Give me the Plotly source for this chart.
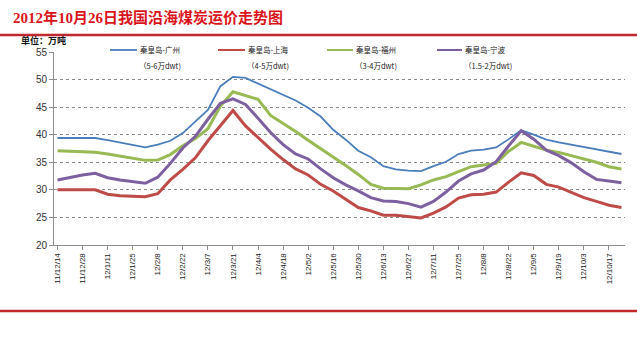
import plotly.graph_objects as go

# ---------------- data ----------------
tick_labels = ["11/12/14", "11/12/28", "12/1/11", "12/1/25", "12/2/8", "12/2/22", "12/3/7",
               "12/3/21", "12/4/4", "12/4/18", "12/5/2", "12/5/16", "12/5/30", "12/6/13",
               "12/6/27", "12/7/11", "12/7/25", "12/8/8", "12/8/22", "12/9/5", "12/9/19",
               "12/10/3", "12/10/17"]

series_names = ["秦皇岛-广州", "秦皇岛-上海", "秦皇岛-福州", "秦皇岛-宁波"]
series_sub = ["（5-6万dwt)", "（4-5万dwt)", "（3-4万dwt)", "（1.5-2万dwt)"]

guangzhou = [39.4, 39.4, 39.4, 39.4, 39.0, 38.6, 38.1, 37.7, 38.2, 38.9,
             40.3, 42.4, 44.5, 48.8, 50.5, 50.3, 49.3, 48.3, 47.2, 46.2,
             44.9, 43.3, 40.9, 39.1, 37.1, 35.9, 34.3, 33.7, 33.5, 33.4,
             34.3, 35.1, 36.5, 37.1, 37.3, 37.7, 39.2, 40.8, 40.0, 39.1,
             38.6, 38.2, 37.8, 37.4, 37.0, 36.5]
shanghai = [30.0, 30.0, 30.0, 30.0, 29.2, 28.95, 28.85, 28.75, 29.3, 31.8,
            33.7, 35.8, 38.9, 41.6, 44.4, 41.6, 39.5, 37.4, 35.5, 33.8,
            32.7, 31.0, 29.8, 28.3, 26.8, 26.2, 25.4, 25.4, 25.2, 24.9,
            25.8, 26.9, 28.5, 29.1, 29.2, 29.6, 31.4, 33.1, 32.6, 31.0,
            30.5, 29.5, 28.6, 27.9, 27.2, 26.8]
fuzhou = [37.1, 37.0, 36.9, 36.8, 36.5, 36.1, 35.7, 35.35, 35.4, 36.4,
          38.0, 39.3, 41.1, 45.2, 47.8, 47.1, 46.4, 43.5, 42.1, 40.6,
          39.0, 37.5, 35.9, 34.4, 32.8, 31.0, 30.3, 30.2, 30.2, 30.9,
          31.8, 32.4, 33.3, 34.2, 34.5, 34.8, 37.0, 38.6, 37.9, 37.2,
          36.8, 36.2, 35.6, 35.0, 34.2, 33.8]
ningbo = [31.8, 32.3, 32.7, 33.0, 32.2, 31.8, 31.5, 31.2, 32.3, 34.8,
          37.6, 39.7, 42.8, 45.7, 46.5, 45.5, 43.0, 40.4, 38.2, 36.5,
          35.6, 33.8, 32.2, 30.9, 29.8, 28.6, 28.0, 27.9, 27.5, 26.85,
          27.9, 29.6, 31.6, 32.9, 33.6, 35.1, 38.0, 40.7, 39.2, 37.2,
          36.2, 34.9, 33.3, 31.9, 31.6, 31.3]

colors = ["#4a7ebb", "#be4b48", "#98b954", "#7d60a0"]
widths = [1.8, 3, 3, 3]

# ---------------- geometry helpers (pixel -> paper) ----------------
W, H = 637, 340
L, R, T, B = 54, 625, 52, 245


def px(x):
    return (x - L) / (R - L)


def py(y):
    return (B - y) / (B - T)


fig = go.Figure()
all_series = [guangzhou, shanghai, fuzhou, ningbo]
idx = list(range(len(guangzhou)))
for name, vals, c, w in zip(series_names, all_series, colors, widths):
    fig.add_trace(go.Scatter(x=idx, y=vals, mode="lines", name=name,
                             line=dict(color=c, width=w), showlegend=False))

fig.update_layout(
    width=W, height=H,
    margin=dict(l=L, r=W - R, t=T, b=H - B),
    paper_bgcolor="white", plot_bgcolor="white",
    xaxis=dict(range=[-0.28, len(idx) - 1 + 0.28],
               tickmode="array", tickvals=list(range(0, 2 * len(tick_labels), 2)),
               ticktext=tick_labels, tickangle=-90,
               tickfont=dict(family="Liberation Sans, Arial", size=8, color="#222"),
               showgrid=False, zeroline=False, showline=True, linecolor="#8c8c8c",
               linewidth=1, ticks="outside", ticklen=4, tickcolor="#8c8c8c"),
    yaxis=dict(range=[20, 55], dtick=5, tick0=20,
               tickfont=dict(family="Liberation Sans, Arial", size=10, color="#333"),
               showgrid=True, gridcolor="#8a8a8a", griddash="dot", gridwidth=1,
               zeroline=False, showline=True, linecolor="#8c8c8c", linewidth=1,
               ticks="outside", ticklen=4, tickcolor="#8c8c8c"),
)

shapes = []
annotations = []

# title + red rules
annotations.append(dict(text="<b>2012年10月26日我国沿海煤炭运价走势图</b>",
                        xref="paper", yref="paper", x=px(11), y=py(17),
                        xanchor="left", yanchor="middle", showarrow=False,
                        font=dict(family="Liberation Serif, Noto Sans CJK SC", size=15,
                                  color="#d9141b")))
for yy in (35, 311):
    shapes.append(dict(type="line", xref="paper", yref="paper",
                       x0=px(0), x1=px(W), y0=py(yy), y1=py(yy),
                       line=dict(color="#c1272d", width=2.5)))

# unit label
annotations.append(dict(text="<b>单位：万吨</b>", xref="paper", yref="paper",
                        x=px(19), y=py(40.5), xanchor="left", yanchor="middle",
                        showarrow=False,
                        font=dict(family="Noto Sans CJK SC", size=9, color="#111")))

# legend
leg_line_x = [(110, 137), (218, 245), (327, 353), (437, 462)]
for (x0, x1), name, sub, c, w in zip(leg_line_x, series_names, series_sub, colors, widths):
    shapes.append(dict(type="line", xref="paper", yref="paper",
                       x0=px(x0), x1=px(x1), y0=py(50), y1=py(50),
                       line=dict(color=c, width=min(w, 2))))
    annotations.append(dict(text=name, xref="paper", yref="paper",
                            x=px(x1 + 1), y=py(50), xanchor="left", yanchor="middle",
                            showarrow=False,
                            font=dict(family="Noto Sans CJK SC", size=7.5, color="#222")))
    annotations.append(dict(text=sub, xref="paper", yref="paper",
                            x=px(x1), y=py(65), xanchor="left", yanchor="middle",
                            showarrow=False,
                            font=dict(family="Noto Sans CJK SC", size=7.5, color="#222")))

fig.update_layout(shapes=shapes, annotations=annotations)
fig.write_html("out.html")
